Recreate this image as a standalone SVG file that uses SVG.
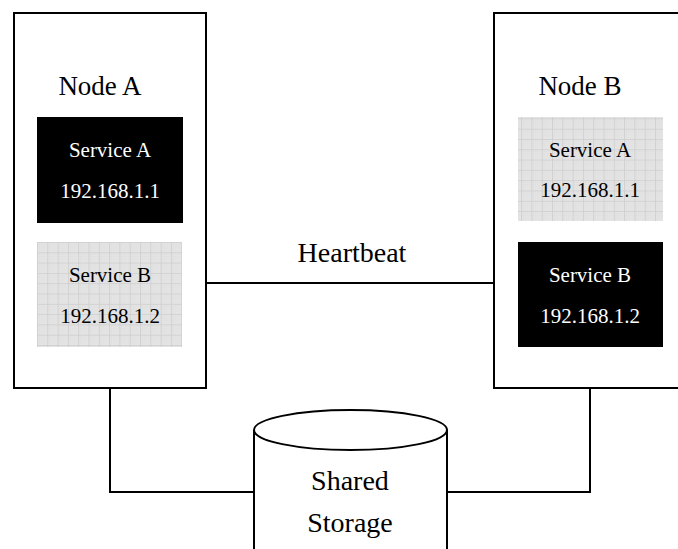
<svg xmlns="http://www.w3.org/2000/svg" width="678" height="549" viewBox="0 0 678 549">
<style>
.box{fill:#fff;stroke:#000;stroke-width:2}
.line{fill:none;stroke:#000;stroke-width:2}
.act{fill:#000}
.stb{fill:url(#grid)}
text{font-family:"Liberation Serif","Times New Roman",serif;text-anchor:middle}
.big{font-size:27px;fill:#000}
.lbl{font-size:28px;fill:#000}
.svc{font-size:21px}
.w{fill:#fff}
.k{fill:#000}
</style>
<defs>
<pattern id="dots" width="2" height="2" patternUnits="userSpaceOnUse">
<rect width="2" height="2" fill="#e6e6e6"/>
<rect width="1" height="1" fill="#dadada"/>
</pattern>
<pattern id="grid" width="10.3" height="10.3" patternUnits="userSpaceOnUse" x="37" y="242">
<rect width="10.3" height="10.3" fill="url(#dots)"/>
<path d="M0 0.5H10.3M0.5 0V10.3" stroke="#d0d0d0" stroke-width="1" fill="none"/>
</pattern>
</defs>
<g id="connectors">
<line class="line" x1="206" y1="283" x2="494" y2="283"/>
<polyline class="line" points="110,388 110,492 254,492"/>
<polyline class="line" points="590,388 590,492 447,492"/>
</g>
<text class="lbl" x="352" y="262">Heartbeat</text>
<g id="nodeA">
<rect class="box" x="14" y="13" width="192" height="375"/>
<text class="big" x="100" y="95">Node A</text>
<g id="nodeA-serviceA">
<rect class="act" x="37" y="117" width="146" height="106"/>
<text class="svc w" x="110" y="157">Service A</text>
<text class="svc w" x="110" y="198">192.168.1.1</text>
</g>
<g id="nodeA-serviceB">
<rect class="stb" x="37" y="242" width="145" height="105"/>
<text class="svc k" x="110" y="282">Service B</text>
<text class="svc k" x="110" y="323">192.168.1.2</text>
</g>
</g>
<g id="nodeB">
<rect class="box" x="494" y="13" width="200" height="375"/>
<text class="big" x="580" y="95">Node B</text>
<g id="nodeB-serviceA">
<rect class="stb" x="518" y="117" width="145" height="104"/>
<text class="svc k" x="590" y="157">Service A</text>
<text class="svc k" x="590" y="197">192.168.1.1</text>
</g>
<g id="nodeB-serviceB">
<rect class="act" x="518" y="242" width="145" height="105"/>
<text class="svc w" x="590" y="282">Service B</text>
<text class="svc w" x="590" y="323">192.168.1.2</text>
</g>
</g>
<g id="storage">
<path class="box" d="M254 430V560H447V430"/>
<ellipse class="box" cx="350.5" cy="430" rx="96.5" ry="20"/>
<text class="lbl" x="350" y="490">Shared</text>
<text class="lbl" x="350" y="532">Storage</text>
</g>
</svg>
